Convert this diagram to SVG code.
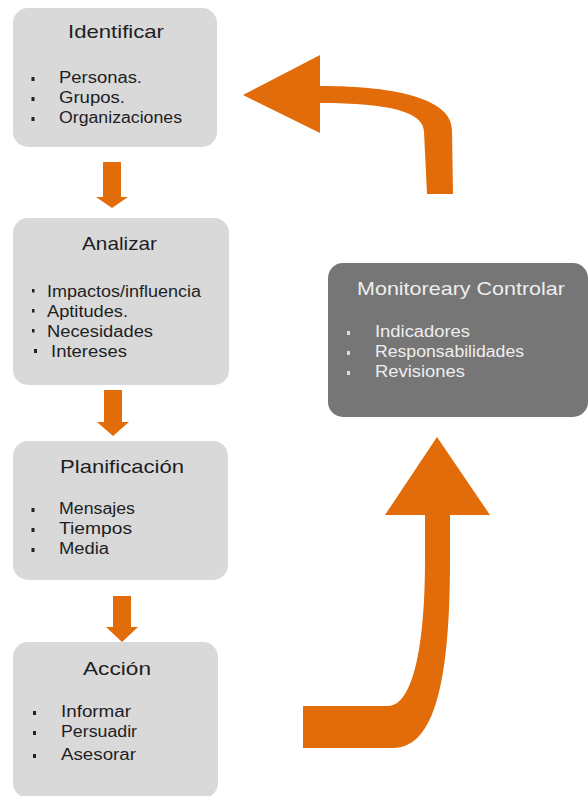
<svg xmlns="http://www.w3.org/2000/svg" width="588" height="796" viewBox="0 0 588 796">
  <style>
    .box { fill: #d9d9d9; }
    .dark { fill: #767676; }
    .title { font-family: "Liberation Sans", Arial, sans-serif; font-size: 19px; fill: #1e1e24; }
    .item { font-family: "Liberation Sans", Arial, sans-serif; font-size: 16px; fill: #1e1e24; }
    .title-l { font-family: "Liberation Sans", Arial, sans-serif; font-size: 19px; fill: #eeeeee; }
    .item-l { font-family: "Liberation Sans", Arial, sans-serif; font-size: 16px; fill: #eeeeee; }
    .dot { fill: #222222; }
    .dot-l { fill: #dddddd; }
    .arrow { fill: #e36c0a; }
  </style>

  <!-- connectors -->
  <g id="connectors">
    <path class="arrow" d="M103 162 H121 V197 H128 L112 208 L96 197 H103 Z"/>
    <path class="arrow" d="M104 390 H122 V422 H129 L113 436 L97 422 H104 Z"/>
    <path class="arrow" d="M113 596 H131 V627 H138 L122 642 L106 627 H113 Z"/>
    <!-- return arrow back to the first step -->
    <path class="arrow" d="M243 95 L320 55 L320 86 C400 86 452 100 452 130 L453 194 L427 194 L424 132 C424 112 390 103 320 103 L320 133 Z"/>
    <!-- arrow from the last step up to monitoring -->
    <path class="arrow" d="M303 706 L388 706 C412 706 425 650 425 560 L425 515 L385 515 L437 437 L490 515 L450 515 L450 560 C450 680 435 748 393 748 L303 748 Z"/>
  </g>

  <!-- step 1 -->
  <g id="identificar">
    <rect class="box" x="13" y="8" width="204" height="139" rx="15"/>
    <text class="title" x="68" y="38" textLength="96" lengthAdjust="spacingAndGlyphs">Identificar</text>
    <rect class="dot" x="31.5" y="77" width="3" height="4"/>
    <rect class="dot" x="31.5" y="97" width="3" height="4"/>
    <rect class="dot" x="31.5" y="117" width="3" height="4"/>
    <text class="item" x="59" y="83" textLength="83" lengthAdjust="spacingAndGlyphs">Personas.</text>
    <text class="item" x="59" y="103" textLength="66" lengthAdjust="spacingAndGlyphs">Grupos.</text>
    <text class="item" x="59" y="123" textLength="123" lengthAdjust="spacingAndGlyphs">Organizaciones</text>
  </g>

  <!-- step 2 -->
  <g id="analizar">
    <rect class="box" x="13" y="218" width="216" height="167" rx="15"/>
    <text class="title" x="82" y="250" textLength="75" lengthAdjust="spacingAndGlyphs">Analizar</text>
    <rect class="dot" x="32" y="289" width="2.5" height="3.5"/>
    <rect class="dot" x="32" y="309" width="2.5" height="3.5"/>
    <rect class="dot" x="32" y="329" width="2.5" height="3.5"/>
    <rect class="dot" x="34" y="349" width="3" height="4"/>
    <text class="item" x="47" y="297" textLength="154" lengthAdjust="spacingAndGlyphs">Impactos/influencia</text>
    <text class="item" x="47" y="317" textLength="81" lengthAdjust="spacingAndGlyphs">Aptitudes.</text>
    <text class="item" x="47" y="337" textLength="106" lengthAdjust="spacingAndGlyphs">Necesidades</text>
    <text class="item" x="51" y="357" textLength="76" lengthAdjust="spacingAndGlyphs">Intereses</text>
  </g>

  <!-- step 3 -->
  <g id="planificacion">
    <rect class="box" x="13" y="441" width="215" height="139" rx="15"/>
    <text class="title" x="60" y="473" textLength="124" lengthAdjust="spacingAndGlyphs">Planificación</text>
    <rect class="dot" x="31.5" y="508" width="3" height="4"/>
    <rect class="dot" x="31.5" y="528" width="3" height="4"/>
    <rect class="dot" x="31.5" y="548" width="3" height="4"/>
    <text class="item" x="59" y="514" textLength="76" lengthAdjust="spacingAndGlyphs">Mensajes</text>
    <text class="item" x="59" y="534" textLength="73" lengthAdjust="spacingAndGlyphs">Tiempos</text>
    <text class="item" x="59" y="554" textLength="50" lengthAdjust="spacingAndGlyphs">Media</text>
  </g>

  <!-- step 4 -->
  <g id="accion">
    <rect class="box" x="13" y="642" width="205" height="156" rx="15"/>
    <text class="title" x="83" y="675" textLength="68" lengthAdjust="spacingAndGlyphs">Acción</text>
    <rect class="dot" x="33" y="711" width="3" height="4"/>
    <rect class="dot" x="33" y="731" width="3" height="4"/>
    <rect class="dot" x="33" y="754" width="3" height="4"/>
    <text class="item" x="61" y="717" textLength="70" lengthAdjust="spacingAndGlyphs">Informar</text>
    <text class="item" x="61" y="737" textLength="76" lengthAdjust="spacingAndGlyphs">Persuadir</text>
    <text class="item" x="61" y="760" textLength="75" lengthAdjust="spacingAndGlyphs">Asesorar</text>
  </g>

  <!-- monitoring step -->
  <g id="monitorear">
    <rect class="dark" x="328" y="263" width="260" height="154" rx="15"/>
    <text class="title-l" x="357" y="295" textLength="208" lengthAdjust="spacingAndGlyphs">Monitoreary Controlar</text>
    <rect class="dot-l" x="347" y="331" width="3" height="4"/>
    <rect class="dot-l" x="347" y="351" width="3" height="4"/>
    <rect class="dot-l" x="347" y="371" width="3" height="4"/>
    <text class="item-l" x="375" y="337" textLength="95" lengthAdjust="spacingAndGlyphs">Indicadores</text>
    <text class="item-l" x="375" y="357" textLength="149" lengthAdjust="spacingAndGlyphs">Responsabilidades</text>
    <text class="item-l" x="375" y="377" textLength="90" lengthAdjust="spacingAndGlyphs">Revisiones</text>
  </g>
</svg>
